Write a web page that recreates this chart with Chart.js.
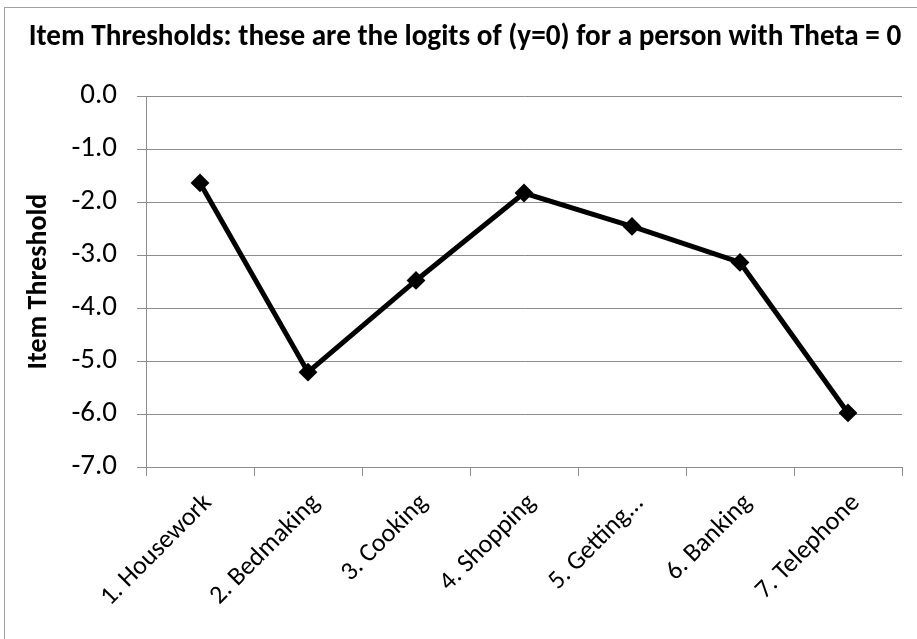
<!DOCTYPE html>
<html>
<head>
<meta charset="utf-8">
<script src="https://cdn.jsdelivr.net/npm/chart.js@4.4.1/dist/chart.umd.min.js"></script>
<style>
  html, body { margin: 0; padding: 0; background: #fff; overflow: hidden; }
  #wrap { position: relative; width: 917px; height: 639px; }
  #frame { position: absolute; left: 4px; top: 7px; width: 1000px; height: 1000px; border: 1px solid #a0a0a0; }
  #holder { position: absolute; left: 0; top: 0; width: 917px; height: 639px; }
</style>
</head>
<body>
<div id="wrap">
  <div id="frame"></div>
  <div id="holder"><canvas id="chart"></canvas></div>
</div>
<script>
// categories and item thresholds
const items = ['1. Housework', '2. Bedmaking', '3. Cooking', '4. Shopping', '5. Getting...', '6. Banking', '7. Telephone'];
const thresholds = [-1.64, -5.21, -3.48, -1.83, -2.46, -3.14, -5.98];
const yTicks = [0, -1, -2, -3, -4, -5, -6, -7];

const FONT = "Carlito, 'Open Sans', sans-serif";
const gridGray = '#8c8c8c';

const ctx = document.getElementById('chart').getContext('2d');
new Chart(ctx, {
    type: 'line',
    data: {
        labels: items,
        datasets: [{
            label: 'Item Threshold',
            data: thresholds,
            borderColor: '#000',
            backgroundColor: '#000',
            borderWidth: 5,
            tension: 0,
            pointStyle: 'rectRot',
            pointRadius: 8,
            pointBorderWidth: 2,
            pointBorderColor: '#000',
            pointBackgroundColor: '#000'
        }]
    },
    options: {
        responsive: true,
        maintainAspectRatio: false,
        animation: false,
        layout: { padding: { left: 28, right: 15, top: 0, bottom: 0 } },
        plugins: {
            legend: { display: false },
            tooltip: { enabled: false },
            title: {
                display: true,
                text: 'Item Thresholds: these are the logits of (y=0) for a person with Theta = 0',
                color: '#000',
                font: { family: FONT, size: 29.2, weight: 'bold' },
                padding: { top: 20, bottom: 41 }
            }
        },
        scales: {
            x: {
                offset: true,
                grid: {
                    offset: true,
                    drawOnChartArea: false,
                    color: gridGray,
                    tickLength: 9
                },
                border: { color: gridGray, width: 1 },
                ticks: {
                    color: '#000',
                    maxRotation: 45,
                    minRotation: 45,
                    autoSkip: false,
                    padding: 12,
                    labelOffset: 8,
                    font: { family: FONT, size: 26 }
                },
                afterFit: (scale) => { scale.height = 172; }
            },
            y: {
                min: -7,
                max: 0,
                afterBuildTicks: (scale) => { scale.ticks = yTicks.map(v => ({ value: v })); },
                grid: { color: gridGray, tickLength: 9 },
                border: { color: gridGray, width: 1 },
                ticks: {
                    color: '#000',
                    padding: 20,
                    font: { family: FONT, size: 29 },
                    callback: (v) => v.toFixed(1)
                },
                title: {
                    display: true,
                    text: 'Item Threshold',
                    color: '#000',
                    font: { family: FONT, size: 28, weight: 'bold' },
                    padding: { top: -6, bottom: 0 }
                },
                afterFit: (scale) => { scale.width = 118; }
            }
        }
    }
});
</script>
</body>
</html>
